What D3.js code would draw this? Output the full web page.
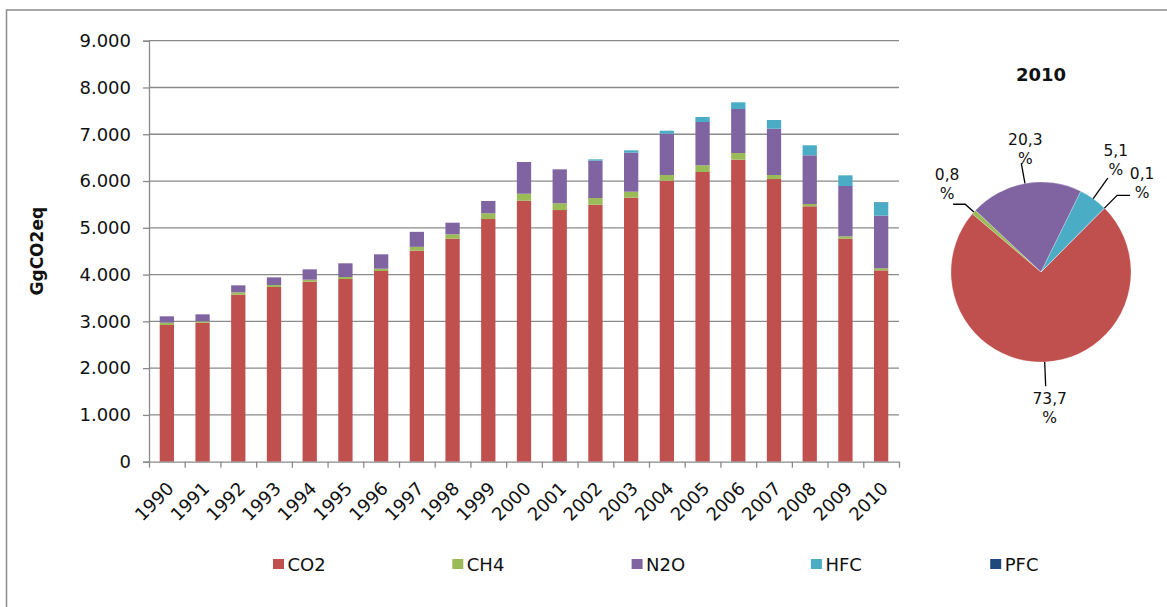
<!DOCTYPE html>
<html>
<head>
<meta charset="utf-8">
<script src="https://cdn.jsdelivr.net/npm/d3@7"></script>
<style>
  html, body { margin: 0; padding: 0; background: #fff; }
  svg { display: block; font-family: "DejaVu Sans", Verdana, sans-serif; }
</style>
</head>
<body>
<svg id="chart" width="1167" height="607"></svg>
<script>
// ---------- DATA ----------
const years = ["1990","1991","1992","1993","1994","1995","1996","1997","1998","1999","2000",
               "2001","2002","2003","2004","2005","2006","2007","2008","2009","2010"];
const seriesNames = ["CO2", "CH4", "N2O", "HFC", "PFC"];
const co2 = [2922, 2971, 3570, 3735, 3848, 3905, 4077, 4511, 4767, 5188, 5580,
             5380, 5494, 5644, 6007, 6193, 6456, 6043, 5460, 4767, 4090];
const ch4 = [49, 30, 51, 42, 43, 43, 49, 82, 94, 122, 149,
             144, 143, 128, 122, 143, 143, 86, 49, 51, 45];
const n2o = [137, 149, 149, 164, 221, 293, 307, 321, 248, 263, 678,
             726, 798, 834, 883, 926, 941, 990, 1041, 1076, 1126];
const hfc = [0, 0, 0, 0, 0, 0, 0, 0, 0, 0, 0,
             0, 29, 50, 64, 107, 143, 186, 214, 228, 283];
const pfc = [0, 0, 0, 0, 0, 0, 0, 0, 0, 0, 0,
             0, 0, 0, 0, 0, 0, 0, 0, 0, 6];
const yTicks = [0, 1000, 2000, 3000, 4000, 5000, 6000, 7000, 8000, 9000];
const pieYear = "2010";

// ---------- STYLE / LAYOUT ----------
const colors = ["#C0504D", "#9BBB59", "#8064A2", "#4BACC6", "#1F497D"];
const gridColor = "#8a8a8a";
const plot = { left: 149, right: 899, top: 40.7, bottom: 461.7 };
const pieGeom = { cx: 1041, cy: 272, r: 90, start: Math.PI / 4 };
// per-slice label layout: leader radius factor, elbow length, label offsets
const pieLabelLayout = [
  { rf: 1.27, elbow: 0,   dx: 4,   dy: 18 },   // CO2
  { rf: 1.13, elbow: -12, dx: -6,  dy: -24 },  // CH4
  { rf: 1.23, elbow: 0,   dx: 4,   dy: -18 },  // N2O
  { rf: 1.28, elbow: 0,   dx: 8,   dy: -22 },  // HFC
  { rf: 1.20, elbow: 13,  dx: 12,  dy: -16 }   // PFC
];

const svg = d3.select("#chart");

// outer chart-area border (left and top visible)
svg.append("path")
  .attr("d", "M6.5,607 L6.5,10 L1167,10")
  .attr("fill", "none").attr("stroke", "#8c8c8c").attr("stroke-width", 1.5);

// ---------- BAR CHART ----------
const rows = years.map((y, i) => ({ year: y, CO2: co2[i], CH4: ch4[i], N2O: n2o[i], HFC: hfc[i], PFC: pfc[i] }));
const stack = d3.stack().keys(seriesNames)(rows);

const x = d3.scaleBand().domain(years).range([plot.left, plot.right])
  .paddingInner(0.6).paddingOuter(0.3);
const y = d3.scaleLinear().domain([0, 9000]).range([plot.bottom, plot.top]);
const locale = d3.formatLocale({ decimal: ",", thousands: ".", grouping: [3], currency: ["", ""] });
const fmt = locale.format(",d");

// gridlines
svg.append("g").selectAll("line").data(yTicks.filter(d => d > 0)).join("line")
  .attr("x1", plot.left).attr("x2", plot.right)
  .attr("y1", d => y(d)).attr("y2", d => y(d))
  .attr("stroke", gridColor).attr("stroke-width", 1.3);

// y axis
const yAxis = svg.append("g").attr("transform", `translate(${plot.left},0)`)
  .call(d3.axisLeft(y).tickValues(yTicks).tickFormat(fmt).tickSize(6).tickPadding(12));
yAxis.select(".domain").attr("stroke", gridColor).attr("stroke-width", 1.3);
yAxis.selectAll(".tick line").attr("stroke", gridColor).attr("stroke-width", 1.3);
yAxis.selectAll(".tick text").attr("font-size", 18).attr("fill", "#111")
  .attr("font-family", "DejaVu Sans, Verdana, sans-serif");

// bars
svg.append("g").selectAll("g").data(stack).join("g")
  .attr("fill", (d, i) => colors[i])
  .selectAll("rect").data(d => d).join("rect")
  .attr("x", d => x(d.data.year))
  .attr("width", x.bandwidth())
  .attr("y", d => y(d[1]))
  .attr("height", d => Math.max(0, y(d[0]) - y(d[1])));

// x axis with ticks at category boundaries
const xb = d3.scaleLinear().domain([0, years.length]).range([plot.left, plot.right]);
const xAxis = svg.append("g").attr("transform", `translate(0,${plot.bottom})`)
  .call(d3.axisBottom(xb).tickValues(d3.range(years.length + 1)).tickFormat("").tickSize(6).tickSizeOuter(0));
xAxis.select(".domain").attr("stroke", gridColor).attr("stroke-width", 1.3);
xAxis.selectAll(".tick line").attr("stroke", gridColor).attr("stroke-width", 1.3);

// year labels rotated -45
svg.append("g").selectAll("text").data(years).join("text")
  .attr("transform", d => `translate(${x(d) + x.bandwidth() / 2 + 8},${plot.bottom + 28}) rotate(-45)`)
  .attr("text-anchor", "end")
  .attr("font-size", 18).attr("fill", "#111")
  .text(d => d);

// y axis title
svg.append("text")
  .attr("transform", `translate(43,${(plot.top + plot.bottom) / 2}) rotate(-90)`)
  .attr("text-anchor", "middle")
  .attr("font-size", 17).attr("font-weight", "bold").attr("fill", "#111")
  .text("GgCO2eq");

// legend
const legend = svg.append("g").selectAll("g").data(seriesNames).join("g")
  .attr("transform", (d, i) => `translate(${273 + i * 179.3},559)`);
legend.append("rect").attr("width", 11).attr("height", 10).attr("fill", (d, i) => colors[i]);
legend.append("text").attr("x", 14.5).attr("y", 11.5)
  .attr("font-size", 18).attr("fill", "#111").text(d => d);

// ---------- PIE ----------
const pieIdx = years.indexOf(pieYear);
const pieData = seriesNames.map((k, i) => ({ key: k, value: [co2, ch4, n2o, hfc, pfc][i][pieIdx], i }));
const total = d3.sum(pieData, d => d.value);
const pie = d3.pie().sort(null).value(d => d.value)
  .startAngle(pieGeom.start).endAngle(pieGeom.start + 2 * Math.PI);
const arcs = pie(pieData);
const arc = d3.arc().innerRadius(0).outerRadius(pieGeom.r);

const pg = svg.append("g").attr("transform", `translate(${pieGeom.cx},${pieGeom.cy})`);
pg.selectAll("path").data(arcs).join("path")
  .attr("d", arc).attr("fill", d => colors[d.data.i])
  .attr("stroke", "#fff").attr("stroke-width", 0.4).attr("stroke-opacity", 0.6);

svg.append("text").attr("x", pieGeom.cx).attr("y", 81)
  .attr("text-anchor", "middle").attr("font-size", 18).attr("font-weight", "bold").attr("fill", "#111")
  .text(pieYear);

const pctFmt = locale.format(".1f");
arcs.forEach(a => {
  const L = pieLabelLayout[a.data.i];
  const mid = (a.startAngle + a.endAngle) / 2;
  const pt = rf => [pieGeom.r * rf * Math.sin(mid), -pieGeom.r * rf * Math.cos(mid)];
  const p0 = pt(1), p1 = pt(L.rf);
  const p2 = [p1[0] + L.elbow, p1[1]];
  pg.append("polyline")
    .attr("points", [p0, p1, p2].map(p => p.join(",")).join(" "))
    .attr("fill", "none").attr("stroke", "#000").attr("stroke-width", 1.3);
  const t = pg.append("text").attr("text-anchor", "middle")
    .attr("font-size", 15.5).attr("fill", "#111");
  const lx = p2[0] + L.dx, ly = p2[1] + L.dy;
  t.append("tspan").attr("x", lx).attr("y", ly).text(pctFmt(100 * a.data.value / total));
  t.append("tspan").attr("x", lx).attr("y", ly + 18.5).text("%");
});
</script>
</body>
</html>
